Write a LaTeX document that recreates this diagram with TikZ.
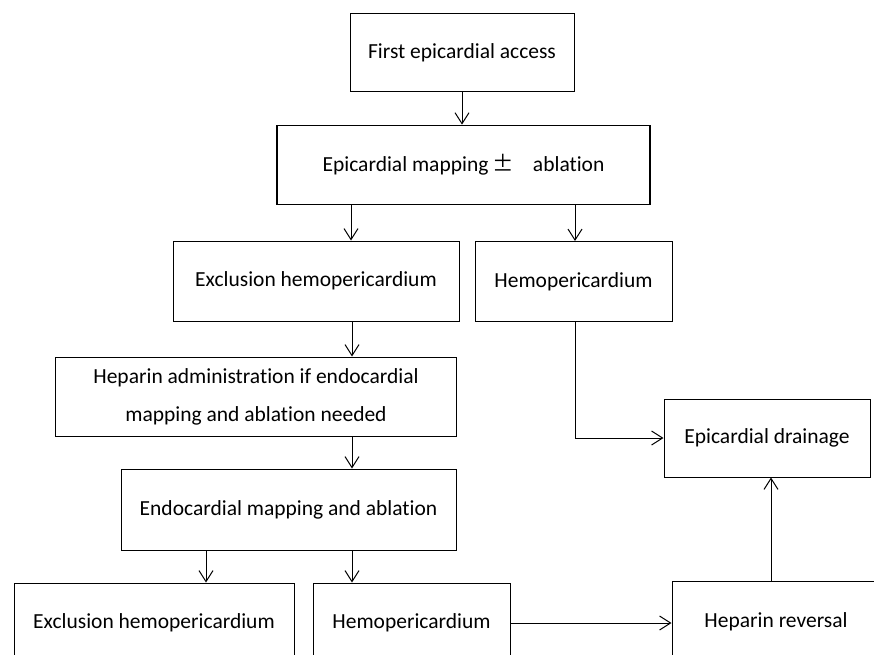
\documentclass[tikz,border=0pt]{standalone}
\usepackage{fontspec}
\setmainfont{Carlito}[Ligatures=CommonOff]
\newfontfamily\cjk{Noto Sans CJK SC}
\usetikzlibrary{arrows.meta}
\begin{document}
\begin{tikzpicture}[x=1pt,y=-1pt,
  box/.style={draw,line width=1pt,rectangle,inner sep=0pt,align=center,
    font=\fontsize{21.5}{38}\selectfont},
  arr/.style={line width=1pt,-{Straight Barb[length=11pt,width=14pt,line width=1pt]}}]
\useasboundingbox (0,0) rectangle (874,654);
\clip (0,0) rectangle (874,654);
\fill[white] (0,0) rectangle (874,654);
\node[box,minimum width=224pt,minimum height=78pt] (b1) at (462,52.5) {First epicardial access};
\node[box,line width=1.8pt,minimum width=373pt,minimum height=79pt] (b2) at (463.5,165) {Epicardial mapping\hspace{4pt}{\cjk ±}\hspace{19pt}ablation};
\node[box,minimum width=286pt,minimum height=80pt] (b3) at (316,281) {Exclusion hemopericardium};
\node[box,minimum width=197pt,minimum height=80pt] (b4) at (573.5,281.5) {Hemopericardium};
\node[box,minimum width=401pt,minimum height=79pt] (b5) at (256,396.5) {Heparin administration if endocardial\\mapping and ablation needed};
\node[box,minimum width=335pt,minimum height=81pt] (b6) at (288.5,509.5) {Endocardial mapping and ablation};
\node[box,minimum width=280pt,minimum height=80pt] (b7) at (154,623) {Exclusion hemopericardium};
\node[box,minimum width=197pt,minimum height=80pt] (b8) at (411.5,623) {Hemopericardium};
\node[box,minimum width=208pt,minimum height=82pt] (b9) at (776,622) {Heparin reversal};
\node[box,minimum width=206pt,minimum height=78pt] (b10) at (767,438) {Epicardial drainage};
\coordinate (xa) at (351,0);
\coordinate (xb) at (575,0);
\coordinate (xc) at (352,0);
\coordinate (xd) at (206,0);
\coordinate (xe) at (771,0);
\draw[arr] (b1.south) -- (b1.south |- b2.north);
\draw[arr] (xa |- b2.south) -- (xa |- b3.north);
\draw[arr] (xb |- b2.south) -- (xb |- b4.north);
\draw[arr] (xc |- b3.south) -- (xc |- b5.north);
\draw[arr] (xc |- b5.south) -- (xc |- b6.north);
\draw[arr] (xd |- b6.south) -- (xd |- b7.north);
\draw[arr] (xc |- b6.south) -- (xc |- b8.north);
\draw[arr] (xb |- b4.south) |- (b10.west);
\draw[arr] (b8.east) -- (b8.east -| b9.west);
\draw[arr] (xe |- b9.north) -- (xe |- b10.south);
\end{tikzpicture}
\end{document}
